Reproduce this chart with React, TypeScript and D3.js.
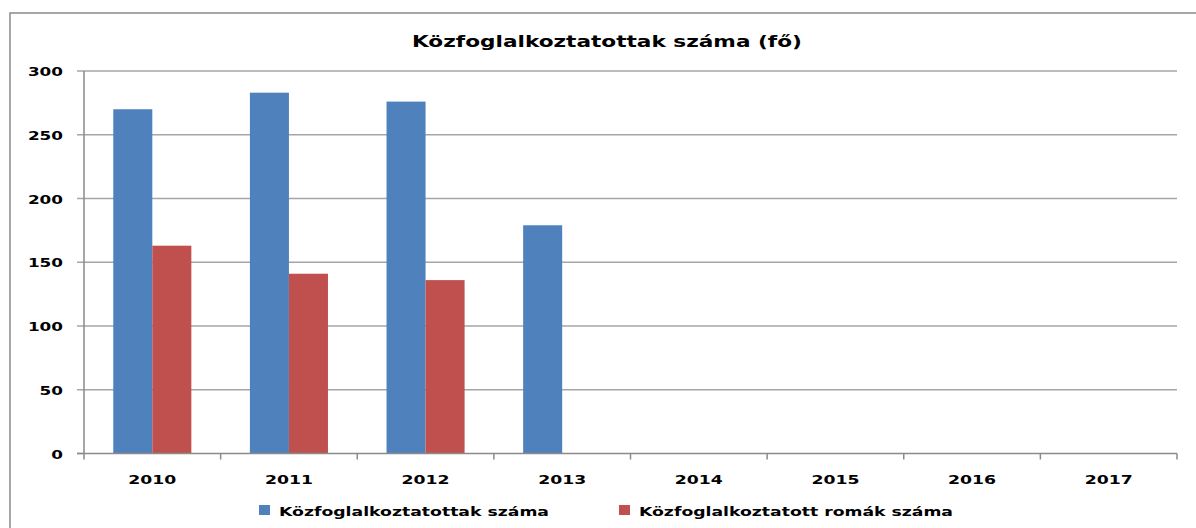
import React from "react";
import * as d3 from "d3";

const years = ["2010", "2011", "2012", "2013", "2014", "2015", "2016", "2017"];
const seriesNames = ["Közfoglalkoztatottak száma", "Közfoglalkoztatott romák száma"];
const totalValues: (number | null)[] = [270, 283, 276, 179, null, null, null, null];
const romaValues: (number | null)[] = [163, 141, 136, null, null, null, null, null];
const yTicks = [0, 50, 100, 150, 200, 250, 300];
const colors = ["#4F81BD", "#C0504D"];
const title = "Közfoglalkoztatottak száma (fő)";

const W = 1196;
const H = 528;
const plotLeft = 84;
const plotRight = 1177;
const plotTop = 71;
const plotBottom = 453.5;
const FONT = "'DejaVu Sans', Verdana, sans-serif";

export default function App() {
  const x0 = d3.scaleBand<string>().domain(years).range([plotLeft, plotRight]).padding(0);
  const x1 = d3
    .scaleBand<string>()
    .domain(["a", "b"])
    .range([0, x0.bandwidth()])
    .paddingInner(0)
    .paddingOuter(0.75);
  const y = d3.scaleLinear().domain([0, 300]).range([plotBottom, plotTop]);
  const seriesData = [totalValues, romaValues];
  const keys = ["a", "b"];
  const boundaries = years.map((yr) => x0(yr)!).concat([plotRight]);

  return (
    <svg width={W} height={H} style={{ position: "absolute", left: 0, top: 0, background: "#fff" }}>
      <rect x={0} y={0} width={W} height={H} fill="#fff" />
      {/* outer frame */}
      <rect x={10} y={13} width={W + 20} height={H + 20} fill="none" stroke="#8a8a8a" strokeWidth={1.5} />
      {/* title */}
      <text
        x={(412 + 802) / 2}
        y={47}
        textAnchor="middle"
        fontFamily={FONT}
        fontWeight="bold"
        fontSize={16.5}
        textLength={390}
        lengthAdjust="spacingAndGlyphs"
        fill="#000"
      >
        {title}
      </text>
      {/* gridlines */}
      {yTicks.map((t) => (
        <line
          key={"g" + t}
          x1={plotLeft - 7}
          x2={t === 0 ? plotLeft : plotRight}
          y1={y(t)}
          y2={y(t)}
          stroke="#a6a6a6"
          strokeWidth={1.5}
        />
      ))}
      {/* y tick labels */}
      {yTicks.map((t) => (
        <text
          key={"yl" + t}
          x={63}
          y={y(t) + 5}
          textAnchor="end"
          fontFamily={FONT}
          fontWeight="bold"
          fontSize={13}
          textLength={String(t).length * 11.7}
          lengthAdjust="spacingAndGlyphs"
          fill="#000"
        >
          {t}
        </text>
      ))}
      {/* bars */}
      {seriesData.map((vals, si) =>
        vals.map((v, i) =>
          v == null ? null : (
            <rect
              key={`b${si}-${i}`}
              x={x0(years[i])! + x1(keys[si])!}
              y={y(v)}
              width={x1.bandwidth()}
              height={plotBottom - y(v)}
              fill={colors[si]}
            />
          )
        )
      )}
      {/* axes */}
      <line x1={plotLeft} x2={plotLeft} y1={plotTop} y2={plotBottom} stroke="#8a8a8a" strokeWidth={1.5} />
      <line x1={plotLeft - 7} x2={plotRight} y1={plotBottom} y2={plotBottom} stroke="#8a8a8a" strokeWidth={1.5} />
      {boundaries.map((bx, i) => (
        <line key={"xt" + i} x1={bx} x2={bx} y1={plotBottom} y2={plotBottom + 6} stroke="#8a8a8a" strokeWidth={1.5} />
      ))}
      {/* x tick labels */}
      {years.map((yr) => (
        <text
          key={"xl" + yr}
          x={x0(yr)! + x0.bandwidth() / 2}
          y={484}
          textAnchor="middle"
          fontFamily={FONT}
          fontWeight="bold"
          fontSize={13}
          textLength={48}
          lengthAdjust="spacingAndGlyphs"
          fill="#000"
        >
          {yr}
        </text>
      ))}
      {/* legend */}
      <rect x={259} y={505} width={11} height={10} fill={colors[0]} />
      <text
        x={279}
        y={515.5}
        fontFamily={FONT}
        fontWeight="bold"
        fontSize={13}
        textLength={270}
        lengthAdjust="spacingAndGlyphs"
        fill="#000"
      >
        {seriesNames[0]}
      </text>
      <rect x={619} y={505} width={11} height={10} fill={colors[1]} />
      <text
        x={639}
        y={515.5}
        fontFamily={FONT}
        fontWeight="bold"
        fontSize={13}
        textLength={314}
        lengthAdjust="spacingAndGlyphs"
        fill="#000"
      >
        {seriesNames[1]}
      </text>
    </svg>
  );
}
